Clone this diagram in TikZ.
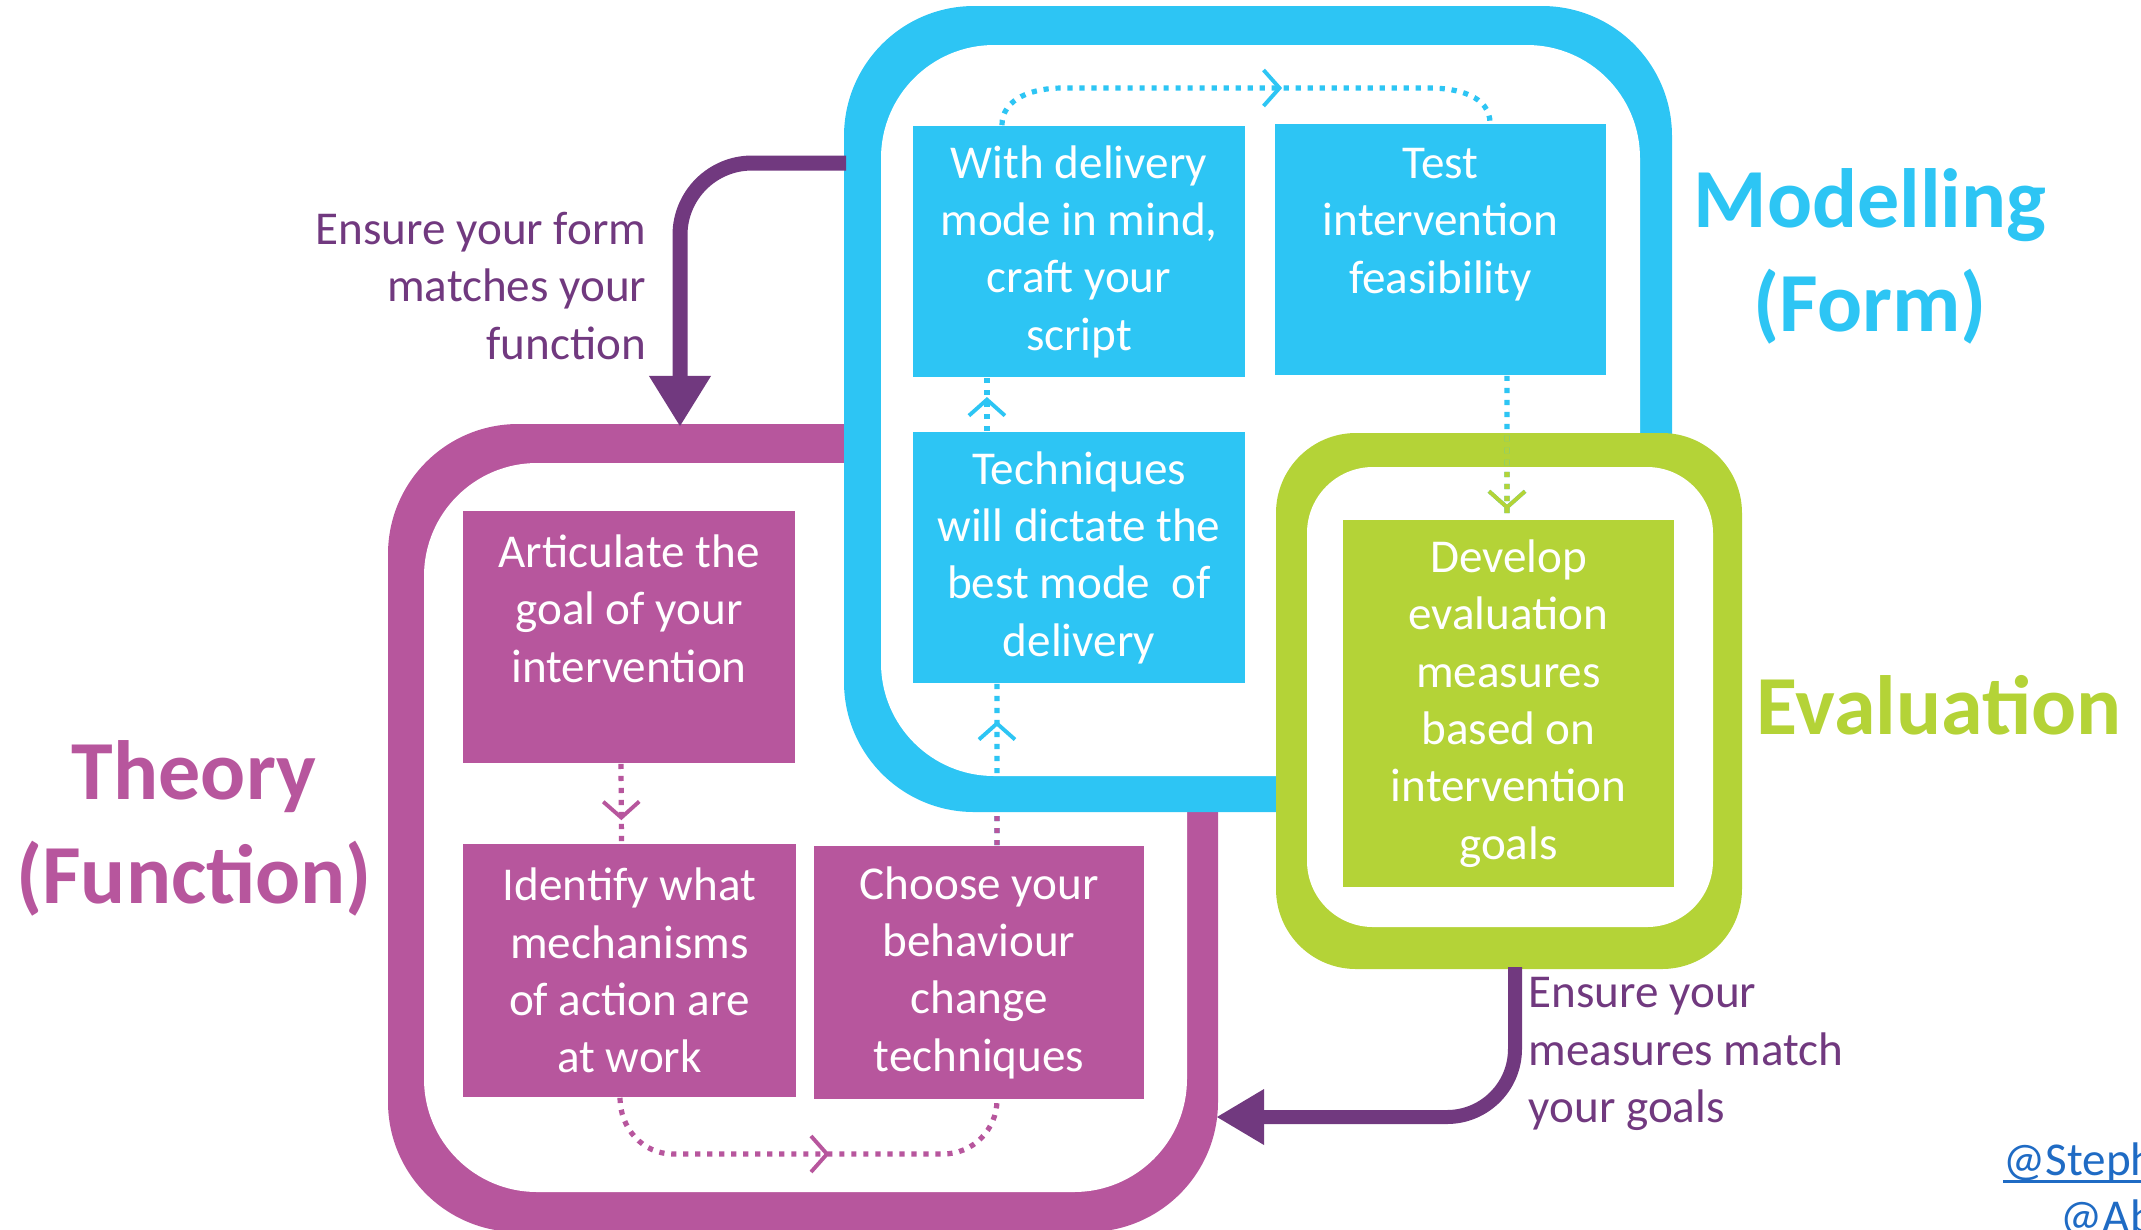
\documentclass[tikz,border=0pt]{standalone}
\usepackage{fontspec}
\setmainfont{Carlito}
\usetikzlibrary{arrows.meta,decorations.markings}
\definecolor{cblue}{HTML}{2DC5F4}
\definecolor{cmag}{HTML}{B7569D}
\definecolor{cgreen}{HTML}{B4D337}
\definecolor{cpurp}{HTML}{71397F}
\definecolor{clink}{HTML}{1F6BC4}
\tikzset{
  boxtext/.style={font=\fontsize{13.4}{16.3}\selectfont, text=white, align=center, inner sep=0pt},
  bluebox/.style={boxtext, fill=cblue},
  magbox/.style={boxtext, fill=cmag},
  greenbox/.style={boxtext, fill=cgreen},
  lbl/.style={font=\fontsize{13.4}{16.3}\selectfont, text=cpurp, inner sep=0pt},
  titletext/.style={font=\bfseries\fontsize{23.9}{29.5}\selectfont, align=center, inner sep=0pt},
  dotline/.style={line width=0.052cm, dash pattern=on 0.052cm off 0.068cm},
  midarrow/.style={postaction={decorate}, decoration={markings, mark=at position #1 with {\pgfsetdash{}{0pt}\arrow{Straight Barb[length=0.16cm,width=0.36cm,line width=1.1pt]}}}},
  bigarrow/.style={cpurp, rounded corners=0.72cm}
}
\begin{document}
\begin{tikzpicture}[x=0.01cm,y=-0.01cm]
\useasboundingbox (0,0) rectangle (2141,1229);
% Theory frame
\fill[cmag, rounded corners=1.3cm] (388,424) rectangle (1218,1232);
\fill[white, rounded corners=1.13cm] (424,463) rectangle (1187,1192);
\node[magbox, minimum width=3.32cm, minimum height=2.52cm] (m1) at (629,637) {Articulate the\\goal of your\\intervention\\\mbox{}};
\node[magbox, minimum width=3.33cm, minimum height=2.53cm] (m2) at (629.5,970.5) {Identify what\\mechanisms\\of action are\\at work};
\node[magbox, minimum width=3.30cm, minimum height=2.53cm] (m3) at (979,972.5) {Choose your\\behaviour\\change\\techniques};
% Modelling frame
\fill[cblue, rounded corners=1.3cm] (844,6) rectangle (1672,812);
\fill[white, rounded corners=1.13cm] (881,45) rectangle (1640,776);
\node[bluebox, minimum width=3.32cm, minimum height=2.51cm] (b1) at (1079,251.5) {With delivery\\mode in mind,\\craft your\\script};
\node[bluebox, minimum width=3.31cm, minimum height=2.51cm] (b2) at (1440.5,249.5) {Test\\intervention\\feasibility\\\mbox{}};
\node[bluebox, minimum width=3.32cm, minimum height=2.51cm] (b3) at (1079,557.5) {Techniques\\will dictate the\\best mode\ \ of\\delivery};
% Evaluation frame
\fill[cgreen, rounded corners=0.8cm] (1276,433) rectangle (1742,969);
\fill[white, rounded corners=0.66cm] (1307,467) rectangle (1713,927);
\node[greenbox, minimum width=3.31cm, minimum height=3.67cm] (g1) at (1508.5,703.5) {Develop\\evaluation\\measures\\based on\\intervention\\goals};
% dotted connectors
\draw[dotline, cblue, midarrow=0.57] ([xshift=-0.77cm]b1.north) to[out=90,in=180] (1062,88) -- (1430,88) to[out=0,in=90] ([xshift=0.495cm]b2.north);
\draw[dotline, cblue, midarrow=0.64] ([xshift=-0.92cm]b3.north) -- ([xshift=-0.92cm]b1.south);
\draw[dotline, cblue, midarrow=0.77] ([xshift=0.18cm]m3.north) -- ([xshift=-0.82cm]b3.south);
\begin{scope}
\clip (900,812) rectangle (1100,846);
\draw[dotline, cmag] ([xshift=0.18cm]m3.north) -- ([xshift=-0.82cm]b3.south);
\end{scope}
\draw[dotline, cblue, midarrow=0.935] ([xshift=0.665cm]b2.south) -- ([xshift=-0.015cm]g1.north);
\begin{scope}
\clip (1276,433) rectangle (1742,969);
\draw[dotline, cgreen, midarrow=0.935] ([xshift=0.665cm]b2.south) -- ([xshift=-0.015cm]g1.north);
\end{scope}
\draw[dotline, cmag, midarrow=0.71] ([xshift=-0.08cm]m1.south) -- ([xshift=-0.08cm]m2.north);
\draw[dotline, cmag, midarrow=0.55] ([xshift=-0.095cm]m2.south) to[out=-90,in=180] (673,1154) -- (943,1154) to[out=0,in=-90] ([xshift=0.18cm]m3.south);
% big purple arrows
\coordinate (fa) at (846,163);
\coordinate (ta) at (680,426);
\coordinate (fb) at (1515,967);
\coordinate (tb) at (1217,1117);
\draw[bigarrow, line width=0.15cm, -{Triangle[length=0.5cm,width=0.62cm,line width=0pt]}] (fa) -| (ta);
\draw[bigarrow, line width=0.14cm, rounded corners=0.68cm, -{Triangle[length=0.47cm,width=0.56cm,line width=0pt]}] (fb) |- (tb);
% labels
\node[lbl, anchor=east, align=right] (lab1) at (647,286) {Ensure your form\\matches your\\function};
\node[lbl, anchor=west, align=left] (lab2) at (1528,1054) {Ensure your\\measures match\\your goals};
% titles
\node[titletext, text=cblue] (tmod) at (1870,256) {Modelling\\(Form)};
\node[titletext, text=cgreen] (teval) at (1939,705) {Evaluation};
\node[titletext, text=cmag] (ttheo) at (194,828) {Theory\\(Function)};
% link
\node[font=\fontsize{13.4}{16.3}\selectfont, text=clink, anchor=base west, inner sep=0pt] (l1) at (2003,1175) {@Steph};
\node[font=\fontsize{13.4}{16.3}\selectfont, text=clink, anchor=base west, inner sep=0pt] (l2) at (2060,1232) {@Ab};
\draw[clink, line width=0.03cm] (l1.base west) ++(0,6) -- (2141,1181);
\end{tikzpicture}
\end{document}
